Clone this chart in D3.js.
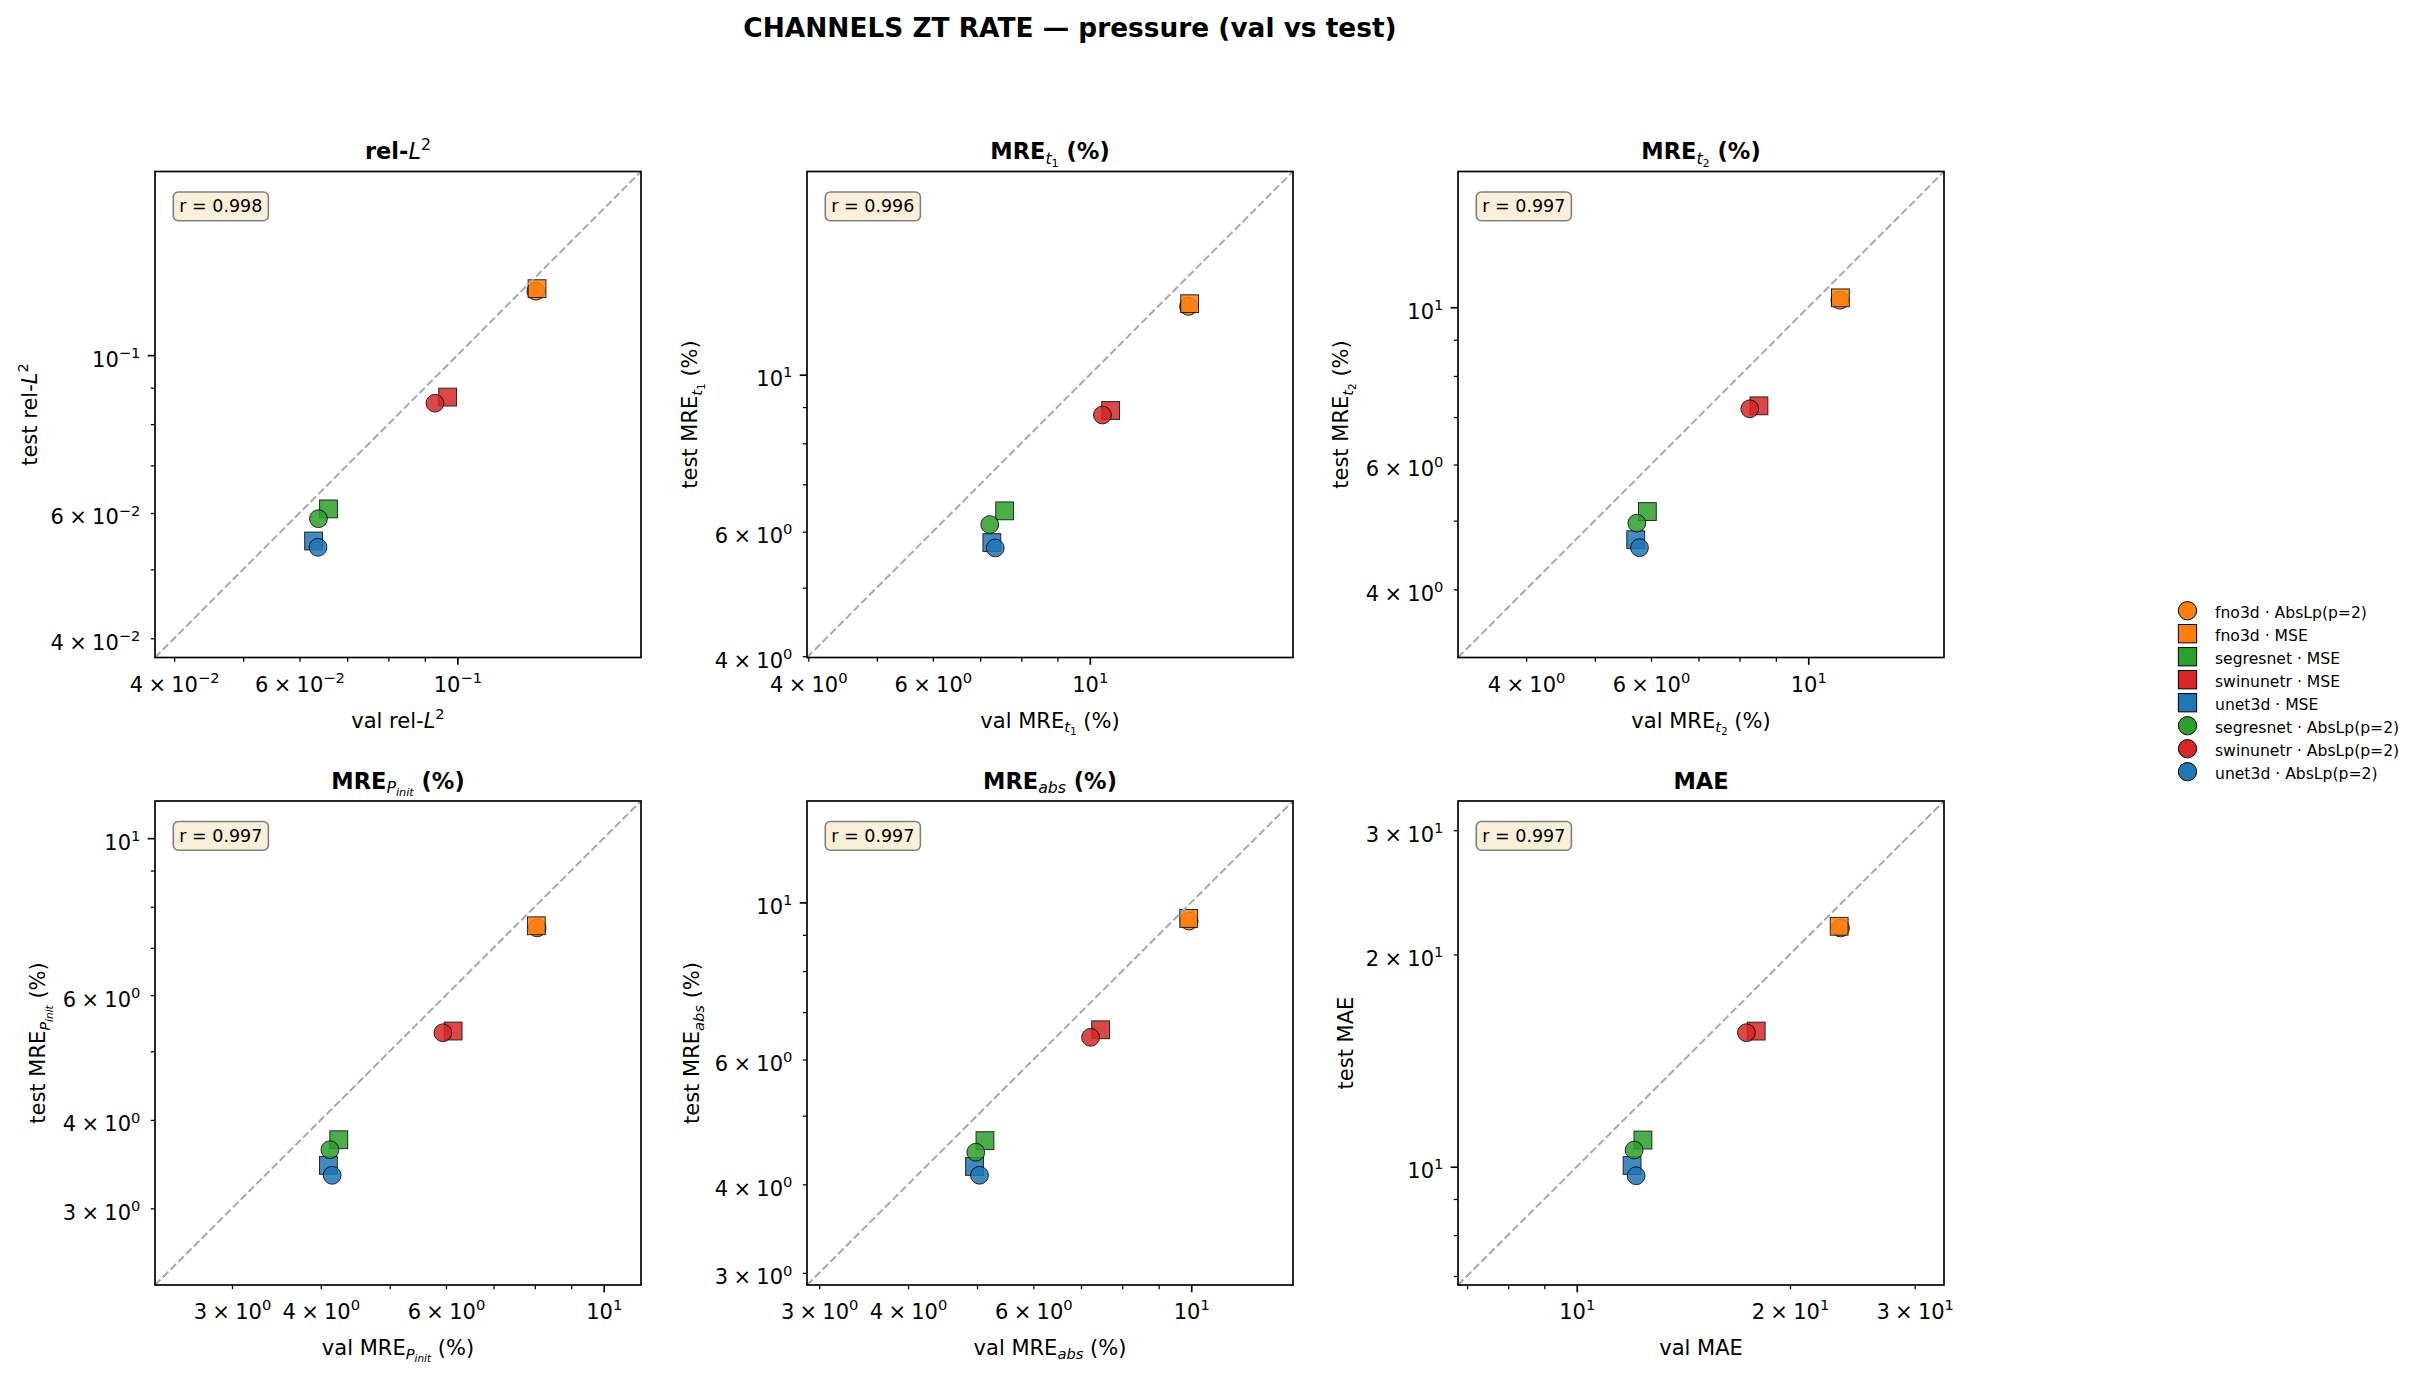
<!DOCTYPE html>
<html lang="en">
<head>
<meta charset="utf-8">
<title>CHANNELS ZT RATE - pressure (val vs test)</title>
<script src="https://cdn.jsdelivr.net/npm/d3@7"></script>
<style>
  body { margin: 0; background: #fff; }
  svg { display: block; font-family: "DejaVu Sans", sans-serif; }
  .axis path.domain { display: none; }
</style>
</head>
<body>
<script>
// ---- data (series order = legend order) ----
var seriesModel = ["fno3d", "fno3d", "segresnet", "swinunetr", "unet3d", "segresnet", "swinunetr", "unet3d"];
var seriesLoss = ["AbsLp(p=2)", "MSE", "MSE", "MSE", "MSE", "AbsLp(p=2)", "AbsLp(p=2)", "AbsLp(p=2)"];

var valRelL2 = [0.1289, 0.1294, 0.0659, 0.0969, 0.0628, 0.0638, 0.0930, 0.0637];
var testRelL2 = [0.1230, 0.1240, 0.0608, 0.0873, 0.0548, 0.0589, 0.0856, 0.0537];
var valMreT1 = [13.79, 13.84, 7.58, 10.70, 7.27, 7.22, 10.42, 7.35];
var testMreT1 = [12.49, 12.60, 6.42, 8.90, 5.79, 6.14, 8.77, 5.69];
var valMreT2 = [11.08, 11.10, 5.93, 8.52, 5.71, 5.73, 8.27, 5.78];
var testMreT2 = [10.23, 10.31, 5.15, 7.26, 4.70, 4.96, 7.19, 4.58];
var valMrePinit = [8.06, 8.04, 4.24, 6.14, 4.10, 4.12, 5.94, 4.15];
var testMrePinit = [7.47, 7.52, 3.75, 5.34, 3.45, 3.63, 5.31, 3.34];
var valMreAbs = [9.93, 9.92, 5.13, 7.46, 4.96, 4.98, 7.22, 5.04];
var testMreAbs = [9.41, 9.49, 4.61, 6.61, 4.24, 4.44, 6.45, 4.12];
var valMae = [23.57, 23.47, 12.40, 17.92, 11.97, 12.05, 17.36, 12.13];
var testMae = [21.80, 21.92, 10.91, 15.57, 10.04, 10.56, 15.49, 9.71];

var rValues = [0.998, 0.996, 0.997, 0.997, 0.997, 0.997];

// metric names as text parts (m = math part, it = italic, s = 1 sup / -1 sub / -2 sub of sub)
var metricNames = [
  [{t: "rel-"}, {t: "L", m: 1, it: 1}, {t: "2", m: 1, s: 1}],
  [{t: "MRE"}, {t: "t", m: 1, it: 1, s: -1}, {t: "1", m: 1, s: -2}, {t: " (%)"}],
  [{t: "MRE"}, {t: "t", m: 1, it: 1, s: -1}, {t: "2", m: 1, s: -2}, {t: " (%)"}],
  [{t: "MRE"}, {t: "P", m: 1, it: 1, s: -1}, {t: "init", m: 1, it: 1, s: -2}, {t: " (%)"}],
  [{t: "MRE"}, {t: "abs", m: 1, it: 1, s: -1}, {t: " (%)"}],
  [{t: "MAE"}]
];
var valSeries = [valRelL2, valMreT1, valMreT2, valMrePinit, valMreAbs, valMae];
var testSeries = [testRelL2, testMreT1, testMreT2, testMrePinit, testMreAbs, testMae];

var tickCoefs = [1, 2, 3, 4, 5, 6, 7, 8, 9];
var labeledCoefs = [1, 2, 3, 4, 6];

var modelColor = {fno3d: "#ff7f0e", segresnet: "#2ca02c", swinunetr: "#d62728", unet3d: "#1f77b4"};
var lossShape = {"AbsLp(p=2)": "circle", "MSE": "square"};

// ---- layout ----
var W = 2420, H = 1378;
var colLeft = [155, 807, 1458];
var rowTop = [171.5, 801];
var panelW = 486;
var panelH = [486, 484];
var markerD = 17.8;

var svg = d3.select("body").append("svg").attr("width", W).attr("height", H);

svg.append("text")
    .attr("x", 1070).attr("y", 37)
    .attr("text-anchor", "middle")
    .attr("font-size", 26.4).attr("font-weight", "bold")
    .text("CHANNELS ZT RATE \u2014 pressure (val vs test)");

function rich(sel, parts, size, weight) {
  var cur = 0;
  parts.forEach(function(p) {
    var lvl = p.s || 0;
    var scale = lvl === 0 ? 1 : (Math.abs(lvl) === 1 ? 0.7 : 0.5);
    var off = lvl === 1 ? -0.42 : lvl === -1 ? 0.2 : lvl === -2 ? 0.34 : 0;
    var ts = sel.append("tspan")
        .attr("font-size", size * scale)
        .attr("dy", ((off - cur) * size).toFixed(2))
        .attr("font-weight", p.m ? "normal" : weight)
        .text(p.t);
    if (p.it) ts.attr("font-style", "italic");
    if (p.dx) ts.attr("dx", p.dx * size);
    cur = off;
  });
}

function logTicks(lo, hi) {
  var out = [];
  for (var d = Math.floor(Math.log10(lo)); d <= Math.ceil(Math.log10(hi)); d++) {
    tickCoefs.forEach(function(k) {
      var v = k * Math.pow(10, d);
      if (v >= lo && v <= hi) out.push(v);
    });
  }
  return out;
}

function decomp(v) {
  var d = Math.floor(Math.log10(v) + 1e-9);
  return {k: Math.round(v / Math.pow(10, d)), d: d};
}

function tickParts(v) {
  var c = decomp(v);
  var ex = (c.d < 0 ? "\u2212" : "") + Math.abs(c.d);
  if (c.k === 1) return [{t: "10"}, {t: ex, s: 1}];
  return [{t: String(c.k)}, {t: "\u00d7", dx: 0.25}, {t: "10", dx: 0.25}, {t: ex, s: 1}];
}

function styleTicks(ga, dir) {
  ga.attr("font-size", null).attr("font-family", null);
  ga.selectAll(".tick").each(function(v) {
    var t = d3.select(this);
    var c = decomp(v);
    var major = c.k === 1;
    var len = major ? 7.3 : 4.2;
    t.select("line")
        .attr("stroke", "#000")
        .attr("stroke-width", major ? 1.67 : 1.25)
        .attr(dir === "x" ? "y2" : "x2", dir === "x" ? len : -len);
    var txt = t.select("text").text(null).attr("dy", null).attr("font-size", 21).attr("fill", "#000");
    if (labeledCoefs.indexOf(c.k) < 0) { txt.remove(); return; }
    if (dir === "x") txt.attr("y", 34);
    else txt.attr("x", -14.6).attr("y", 11);
    rich(txt, tickParts(v), 21, "normal");
  });
}

metricNames.forEach(function(name, i) {
  var col = i % 3, row = Math.floor(i / 3);
  var w = panelW, h = panelH[row];
  var vals = valSeries[i], tests = testSeries[i];
  var all = vals.concat(tests);
  var lo = d3.min(all) * 0.7, hi = d3.max(all) * 1.4;

  var x = d3.scaleLog().domain([lo, hi]).range([0, w]);
  var y = d3.scaleLog().domain([lo, hi]).range([h, 0]);
  var ticks = logTicks(lo, hi);

  var g = svg.append("g").attr("transform", "translate(" + colLeft[col] + "," + rowTop[row] + ")");

  // points
  var pts = g.append("g").selectAll("g.pt")
      .data(d3.range(vals.length))
      .enter().append("g")
      .attr("class", "pt")
      .attr("opacity", 0.85);
  pts.each(function(j) {
    var p = d3.select(this);
    var cx = x(vals[j]), cy = y(tests[j]);
    var col = modelColor[seriesModel[j]];
    if (lossShape[seriesLoss[j]] === "circle") {
      p.append("circle").attr("cx", cx).attr("cy", cy).attr("r", markerD / 2);
    } else {
      p.append("rect").attr("x", cx - markerD / 2).attr("y", cy - markerD / 2)
          .attr("width", markerD).attr("height", markerD);
    }
    p.select("*").attr("fill", col).attr("stroke", "#000").attr("stroke-width", 1);
  });

  // diagonal y = x
  g.append("line")
      .attr("x1", x(lo)).attr("y1", y(lo))
      .attr("x2", x(hi)).attr("y2", y(hi))
      .attr("stroke", "#a9a9a9").attr("stroke-width", 2)
      .attr("stroke-dasharray", "7.7,3.3");

  // axes
  var gx = g.append("g").attr("class", "axis").attr("transform", "translate(0," + h + ")")
      .call(d3.axisBottom(x).tickValues(ticks).tickFormat(""));
  styleTicks(gx, "x");
  var gy = g.append("g").attr("class", "axis")
      .call(d3.axisLeft(y).tickValues(ticks).tickFormat(""));
  styleTicks(gy, "y");

  g.append("rect").attr("width", w).attr("height", h)
      .attr("fill", "none").attr("stroke", "#000").attr("stroke-width", 1.67);

  // title
  var tt = g.append("text").attr("x", w / 2).attr("y", -12.5)
      .attr("text-anchor", "middle").attr("font-size", 22.5);
  rich(tt, name, 22.5, "bold");

  // x label
  var xl = g.append("text").attr("x", w / 2).attr("y", h + 70)
      .attr("text-anchor", "middle").attr("font-size", 21);
  rich(xl, [{t: "val "}].concat(name), 21, "normal");

  // y label
  var tickLeft = gy.node().getBBox().x;
  var yl = g.append("text").attr("text-anchor", "middle").attr("font-size", 21);
  rich(yl, [{t: "test "}].concat(name), 21, "normal");
  var bb = yl.node().getBBox();
  var bottom = bb.y + bb.height;
  yl.attr("transform", "translate(" + (tickLeft - 8.3 - bottom) + "," + (h / 2) + ") rotate(-90)");

  // r box
  var rt = g.append("text").attr("x", 0.05 * w).attr("y", 40.8)
      .attr("font-size", 17.5).text("r = " + rValues[i].toFixed(3));
  var rb = rt.node().getBBox();
  g.insert("rect", function() { return rt.node(); })
      .attr("x", rb.x - 6).attr("y", 20.5)
      .attr("width", rb.width + 12).attr("height", 28.7)
      .attr("rx", 5).attr("ry", 5)
      .attr("fill", "#faefd9").attr("stroke", "#808080").attr("stroke-width", 1.6);
});

// legend
var legend = svg.append("g").attr("transform", "translate(2187.5,610.7)");
var items = legend.selectAll("g").data(d3.range(seriesModel.length)).enter().append("g")
    .attr("transform", function(j) { return "translate(0," + (j * 23) + ")"; });
items.each(function(j) {
  var it = d3.select(this);
  var col = modelColor[seriesModel[j]];
  var m;
  var d = 18.3;
  if (lossShape[seriesLoss[j]] === "circle") m = it.append("circle").attr("r", d / 2);
  else m = it.append("rect").attr("x", -d / 2).attr("y", -d / 2).attr("width", d).attr("height", d);
  m.attr("fill", col).attr("stroke", "#000").attr("stroke-width", 1);
  it.append("text").attr("x", 27.5).attr("y", 7).attr("font-size", 15.6)
      .text(seriesModel[j] + " \u00b7 " + seriesLoss[j]);
});
</script>
</body>
</html>
